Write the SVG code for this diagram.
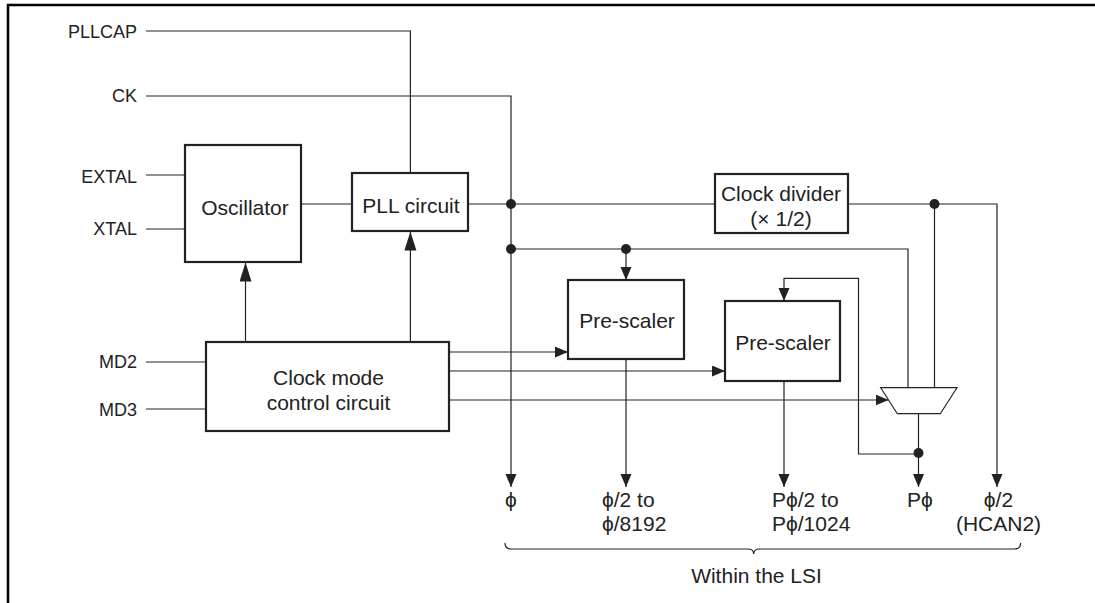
<svg xmlns="http://www.w3.org/2000/svg" width="1095" height="603" viewBox="0 0 1095 603">
<style>
  .box{fill:#fff;stroke:#222;stroke-width:2.2}
  .ln{fill:none;stroke:#222;stroke-width:1.2}
  .t{font-family:"Liberation Sans",Arial,"DejaVu Sans",sans-serif;fill:#222}
  .nt{font-size:21px;text-anchor:middle}
  .lt{font-size:18px;text-anchor:end}
  .bt{font-size:21px}
  .dot{fill:#222}
</style>
<defs>
  <marker id="a" markerUnits="userSpaceOnUse" markerWidth="14" markerHeight="12" refX="13" refY="5.5" orient="auto">
    <path d="M0,0 L13,5.5 L0,11 z" fill="#222"/>
  </marker>
  <marker id="b" markerUnits="userSpaceOnUse" markerWidth="20" markerHeight="13" refX="19" refY="6" orient="auto">
    <path d="M0,0 L19,6 L0,12 z" fill="#222"/>
  </marker>
</defs>
<rect width="1095" height="603" fill="#fff"/>
<g id="frame">
  <path d="M8,603 V5 H1095" fill="none" stroke="#000" stroke-width="2.5"/>
</g>
<g id="connectors">
  <path class="ln" d="M146,31 H410.4 V173"/>
  <path class="ln" d="M146,96 H511 V487" marker-end="url(#a)"/>
  <path class="ln" d="M146,175 H185"/>
  <path class="ln" d="M146,229 H185"/>
  <path class="ln" d="M146,362 H206"/>
  <path class="ln" d="M146,409 H206"/>
  <path class="ln" d="M301,204 H352"/>
  <path class="ln" d="M468,204 H715"/>
  <path class="ln" d="M848,204 H997 V487" marker-end="url(#a)"/>
  <path class="ln" d="M511,249 H908 V388"/>
  <path class="ln" d="M626,249 V280" marker-end="url(#a)"/>
  <path class="ln" d="M934.5,204 V388"/>
  <path class="ln" d="M245.5,342 V262.5" marker-end="url(#b)"/>
  <path class="ln" d="M410.4,342 V231.5" marker-end="url(#b)"/>
  <path class="ln" d="M449,352 H568" marker-end="url(#a)"/>
  <path class="ln" d="M449,371 H725" marker-end="url(#a)"/>
  <path class="ln" d="M449,400 H888.6" marker-end="url(#a)"/>
  <path class="ln" d="M626,359 V487" marker-end="url(#a)"/>
  <path class="ln" d="M784,381 V487" marker-end="url(#a)"/>
  <path class="ln" d="M918.5,413.7 V487" marker-end="url(#a)"/>
  <path class="ln" d="M918.5,454 H858.5 V278.3 H784 V301" marker-end="url(#a)"/>
  <circle class="dot" cx="511" cy="204" r="5"/>
  <circle class="dot" cx="511" cy="249" r="5"/>
  <circle class="dot" cx="626" cy="249" r="5"/>
  <circle class="dot" cx="934.5" cy="204" r="5"/>
  <circle class="dot" cx="918.5" cy="453" r="5"/>
  <path class="ln" d="M505,543 Q505,549 511,549 H747.7 Q753.7,549 753.7,554 Q753.7,549 759.7,549 H1014.6 Q1020.6,549 1020.6,543"/>
</g>
<g id="oscillator">
  <rect class="box" x="185" y="145" width="116" height="117"/>
  <text class="t nt" x="245" y="215">Oscillator</text>
</g>
<g id="pll">
  <rect class="box" x="352" y="173" width="116" height="58"/>
  <text class="t nt" x="411" y="213">PLL circuit</text>
</g>
<g id="clock-divider">
  <rect class="box" x="715" y="174" width="133" height="59"/>
  <text class="t nt" x="781" y="200.5">Clock divider</text>
  <text class="t nt" x="781" y="226">(× 1/2)</text>
</g>
<g id="prescaler1">
  <rect class="box" x="568" y="280" width="116" height="79"/>
  <text class="t nt" x="627" y="328">Pre-scaler</text>
</g>
<g id="prescaler2">
  <rect class="box" x="725" y="301" width="115" height="80"/>
  <text class="t nt" x="783" y="349.5">Pre-scaler</text>
</g>
<g id="clock-mode">
  <rect class="box" x="206" y="342" width="243" height="89"/>
  <text class="t nt" x="328.5" y="385">Clock mode</text>
  <text class="t nt" x="328.5" y="410">control circuit</text>
</g>
<g id="mux">
  <polygon points="880.7,387.7 957,387.7 940.3,413.7 897.3,413.7" fill="#fff" stroke="#222" stroke-width="1.2"/>
</g>
<g id="labels">
  <text class="t lt" x="137" y="38">PLLCAP</text>
  <text class="t lt" x="137" y="102">CK</text>
  <text class="t lt" x="137" y="183">EXTAL</text>
  <text class="t lt" x="137" y="235">XTAL</text>
  <text class="t lt" x="137" y="368">MD2</text>
  <text class="t lt" x="137" y="416">MD3</text>
  <text class="t bt" x="511" y="507" text-anchor="middle">ϕ</text>
  <text class="t bt" x="602" y="507">ϕ/2 to</text>
  <text class="t bt" x="602" y="531">ϕ/8192</text>
  <text class="t bt" x="772" y="507">Pϕ/2 to</text>
  <text class="t bt" x="772" y="531">Pϕ/1024</text>
  <text class="t bt" x="920" y="507" text-anchor="middle">Pϕ</text>
  <text class="t bt" x="998.5" y="507" text-anchor="middle">ϕ/2</text>
  <text class="t bt" x="998.5" y="531" text-anchor="middle">(HCAN2)</text>
  <text class="t bt" x="756.5" y="583" text-anchor="middle">Within the LSI</text>
</g>
</svg>
